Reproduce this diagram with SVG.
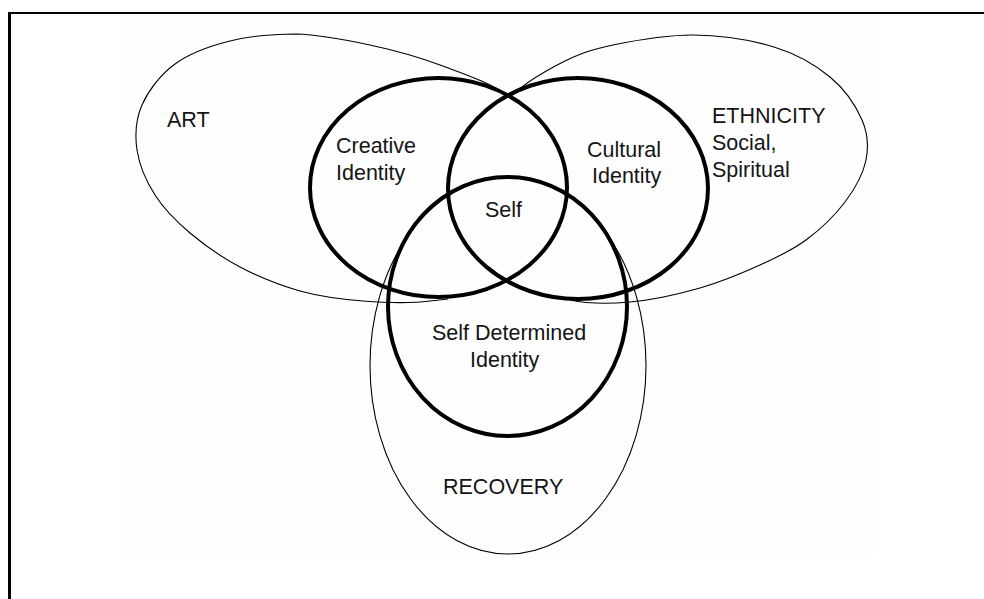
<svg xmlns="http://www.w3.org/2000/svg" width="984" height="599" viewBox="0 0 984 599">
  <style>
    .thin { fill: none; stroke: #000; stroke-width: 1.1; }
    .thick { fill: none; stroke: #000; stroke-width: 4; }
    .label { font-family: "Liberation Sans", Arial, sans-serif; font-size: 21.5px; fill: #151515; }
  </style>

  <!-- page and drawing area -->
  <rect width="984" height="599" fill="#fff"/>
  <rect x="122" y="14" width="754" height="543" fill="#fefefe"/>

  <!-- frame: left and top edges of the box -->
  <g id="frame" stroke="#000">
    <line x1="9.5" y1="12" x2="9.5" y2="599" stroke-width="3"/>
    <line x1="8" y1="13" x2="984" y2="13" stroke-width="2"/>
  </g>

  <!-- outer context ellipses (only the parts outside the identity circles) -->
  <g id="art">
    <path class="thin" d="M 448,299 C 441,300 436,300.5 430,301
      C 408.8,303.7 384.7,302.7 363,301
      C 341.3,299.3 320.5,296.7 300,291
      C 279.5,285.3 258.3,276.7 240,267
      C 221.7,257.3 204.2,245 190,233
      C 175.8,221 163.8,208.8 155,195
      C 146.2,181.2 139.2,165 137,150
      C 134.8,135 135.7,119.3 142,105
      C 148.3,90.7 160.3,74.7 175,64
      C 189.7,53.3 209.8,46 230,41
      C 250.2,36 272.7,34 296,34
      C 319.3,34.7 346,39.8 370,45
      C 394,50.2 416.7,56.3 440,65
      C 463.3,73.7 490.8,82.8 510,97"/>
    <text class="label" x="167" y="127">ART</text>
  </g>

  <g id="ethnicity">
    <path class="thin" d="M 510,97 C 525.5,82.3 545.8,70.7 563,62
      C 580.2,53.3 591.3,49.5 613,45
      C 634.7,40.5 666.2,35 693,35
      C 719.8,35.3 751.2,40 774,47
      C 796.8,54 815.3,64.8 830,77
      C 844.7,89.2 856,106.2 862,120
      C 868,133.8 868.8,146.3 866,160
      C 863.2,173.7 855,188.7 845,202
      C 835,215.3 820.2,229.5 806,240
      C 791.8,250.5 777.7,257 760,265
      C 742.3,273 721.7,281.8 700,288
      C 678.3,294.2 651.7,300 630,302
      C 608.3,304 587.5,303.7 570,300"/>
    <text class="label" x="712" y="123">ETHNICITY</text>
    <text class="label" x="712" y="150">Social,</text>
    <text class="label" x="712" y="177">Spiritual</text>
  </g>

  <g id="recovery">
    <ellipse class="thin" cx="508" cy="365.5" rx="138" ry="188.5"/>
    <text class="label" x="443" y="494">RECOVERY</text>
  </g>

  <!-- identity circles -->
  <g id="creative-identity">
    <ellipse class="thick" cx="438.5" cy="187.5" rx="128.5" ry="109.5"/>
    <text class="label" x="336" y="153">Creative</text>
    <text class="label" x="336" y="180">Identity</text>
  </g>

  <g id="cultural-identity">
    <ellipse class="thick" cx="578" cy="188.5" rx="130" ry="110.5"/>
    <text class="label" x="587" y="157">Cultural</text>
    <text class="label" x="592" y="183">Identity</text>
  </g>

  <g id="self-determined-identity">
    <ellipse class="thick" cx="507.5" cy="306.5" rx="119.5" ry="129.5"/>
    <text class="label" x="432" y="340">Self Determined</text>
    <text class="label" x="470" y="367">Identity</text>
  </g>

  <g id="self">
    <text class="label" x="485" y="217">Self</text>
  </g>

  <g id="connectors"/>
</svg>
